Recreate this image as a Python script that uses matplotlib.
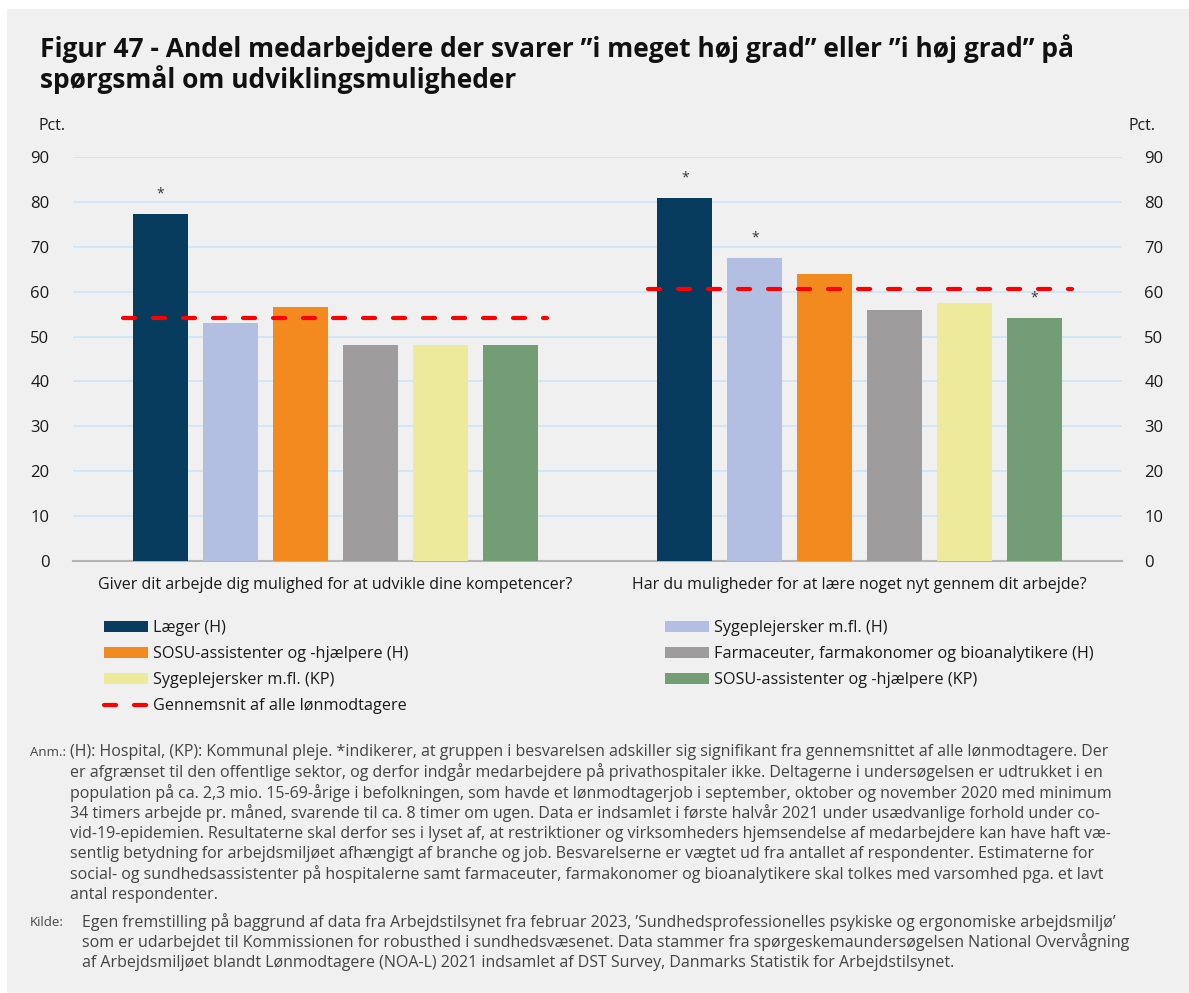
import matplotlib.pyplot as plt
from matplotlib.patches import Patch
from matplotlib.lines import Line2D
import numpy as np

plt.rcParams["font.family"] = ["Open Sans", "DejaVu Sans"]

# -------------------- data --------------------
questions = [
    "Giver dit arbejde dig mulighed for at udvikle dine kompetencer?",
    "Har du muligheder for at lære noget nyt gennem dit arbejde?",
]
groups = [
    "Læger (H)",
    "Sygeplejersker m.fl. (H)",
    "SOSU-assistenter og -hjælpere (H)",
    "Farmaceuter, farmakonomer og bioanalytikere (H)",
    "Sygeplejersker m.fl. (KP)",
    "SOSU-assistenter og -hjælpere (KP)",
]
colors = ["#073c5f", "#b2bfe2", "#f28a20", "#9e9c9c", "#eeea9c", "#739d74"]

# share per group, one list per question
values_q1 = [77.3, 53.1, 56.5, 48.1, 48.1, 48.1]
values_q2 = [81.0, 67.5, 63.9, 56.0, 57.5, 54.2]
# significant difference from the average (*)
signif_q1 = [True, False, False, False, False, False]
signif_q2 = [True, True, False, False, False, True]

average = [54.1, 60.6]
avg_label = "Gennemsnit af alle lønmodtagere"

yticks = list(range(0, 100, 10))

anm_lines = [
    "(H): Hospital, (KP): Kommunal pleje. *indikerer, at gruppen i besvarelsen adskiller sig signifikant fra gennemsnittet af alle lønmodtagere. Der",
    "er afgrænset til den offentlige sektor, og derfor indgår medarbejdere på privathospitaler ikke. Deltagerne i undersøgelsen er udtrukket i en",
    "population på ca. 2,3 mio. 15-69-årige i befolkningen, som havde et lønmodtagerjob i september, oktober og november 2020 med minimum",
    "34 timers arbejde pr. måned, svarende til ca. 8 timer om ugen. Data er indsamlet i første halvår 2021 under usædvanlige forhold under co-",
    "vid-19-epidemien. Resultaterne skal derfor ses i lyset af, at restriktioner og virksomheders hjemsendelse af medarbejdere kan have haft væ-",
    "sentlig betydning for arbejdsmiljøet afhængigt af branche og job. Besvarelserne er vægtet ud fra antallet af respondenter. Estimaterne for",
    "social- og sundhedsassistenter på hospitalerne samt farmaceuter, farmakonomer og bioanalytikere skal tolkes med varsomhed pga. et lavt",
    "antal respondenter.",
]
kilde_lines = [
    "Egen fremstilling på baggrund af data fra Arbejdstilsynet fra februar 2023, ’Sundhedsprofessionelles psykiske og ergonomiske arbejdsmiljø’",
    "som er udarbejdet til Kommissionen for robusthed i sundhedsvæsenet. Data stammer fra spørgeskemaundersøgelsen National Overvågning",
    "af Arbejdsmiljøet blandt Lønmodtagere (NOA-L) 2021 indsamlet af DST Survey, Danmarks Statistik for Arbejdstilsynet.",
]

# -------------------- figure --------------------
W, H = 1189, 993
bg = "#f0f0f0"
text_col = "#1a1a1a"
note_col = "#444444"

fig = plt.figure(figsize=(W / 100, H / 100), dpi=100, facecolor="white")
fig.patches.append(
    plt.Rectangle((7 / W, 0), 1, 1 - 9 / H, transform=fig.transFigure,
                  facecolor=bg, edgecolor="none", zorder=-10)
)

ax = fig.add_axes([73 / W, 1 - 560.7 / H, (1122 - 73) / W, (560.7 - 157.3) / H])
ax.set_facecolor(bg)

step = 0.1333
width = 0.105
offsets = (np.arange(len(groups)) - (len(groups) - 1) / 2) * step
x = np.arange(len(questions))

all_values = np.array([values_q1, values_q2])
all_signif = np.array([signif_q1, signif_q2])

for i, (name, col) in enumerate(zip(groups, colors)):
    vals = all_values[:, i]
    ax.bar(x + offsets[i], vals, width=width, color=col, zorder=3)
    for xi, v, s in zip(x + offsets[i], vals, all_signif[:, i]):
        if s:
            ax.annotate("*", (xi, v), xytext=(0, 9), textcoords="offset points",
                        ha="center", va="bottom", fontsize=10, color="#333333")

for xi, avg in zip(x, average):
    ax.plot([xi - 0.404, xi + 0.404], [avg, avg], color="#ff0000", lw=3,
            dashes=(2.9, 4.3), dash_capstyle="round", zorder=4)

ax.set_xlim(-0.5, 1.5)
ax.set_ylim(0, 90)
ax.set_yticks(yticks)
ax.grid(axis="y", color="#cde5f7", lw=1.2, zorder=0)
for side in ["top", "left", "right"]:
    ax.spines[side].set_visible(False)
ax.spines["bottom"].set_color("#b4b4b4")
ax.spines["bottom"].set_linewidth(1.5)
ax.set_xticks(x)
ax.set_xticklabels(questions, fontsize=11.5, color=text_col)
ax.tick_params(axis="x", length=0, pad=12)
ax.tick_params(axis="y", length=0, pad=17, labelsize=12, labelcolor=text_col)

ax2 = ax.twinx()
ax2.set_ylim(ax.get_ylim())
ax2.set_yticks(yticks)
ax2.tick_params(axis="y", length=0, pad=16, labelsize=12, labelcolor=text_col)
for side in ax2.spines:
    ax2.spines[side].set_visible(False)

fig.text(38 / W, 1 - 126 / H, "Pct.", fontsize=11.5, color=text_col, va="center")
fig.text(1156 / W, 1 - 126 / H, "Pct.", fontsize=11.5, color=text_col,
         va="center", ha="right")

# title
fig.text(40 / W, 1 - 49 / H,
         "Figur 47 - Andel medarbejdere der svarer ”i meget høj grad” eller ”i høj grad” på",
         fontsize=19, fontweight="bold", color="#111111", va="center")
fig.text(40 / W, 1 - 80 / H, "spørgsmål om udviklingsmuligheder",
         fontsize=19, fontweight="bold", color="#111111", va="center")

# legend, two columns
handles = [Patch(facecolor=c, label=g) for c, g in zip(colors, groups)]
avg_handle = Line2D([], [], color="#ff0000", lw=3, dashes=(2.9, 4.3),
                    dash_capstyle="round", label=avg_label)
col1 = [handles[0], handles[2], handles[4], avg_handle]
col2 = [handles[1], handles[3], handles[5]]
leg_kw = dict(frameon=False, fontsize=11.7, handlelength=2.7, handleheight=0.68,
              handletextpad=0.3, labelspacing=0.62, borderpad=0, borderaxespad=0,
              loc="upper left", labelcolor=text_col)
fig.legend(handles=col1, bbox_to_anchor=(104 / W, 1 - 620 / H), **leg_kw)
fig.legend(handles=col2, bbox_to_anchor=(665 / W, 1 - 620 / H), **leg_kw)

# notes
note_fs = 11.5
line_h = 20.4
fig.text(30 / W, 1 - 752 / H, "Anm.:", fontsize=9.5, color=note_col, va="center")
for k, line in enumerate(anm_lines):
    fig.text(70 / W, 1 - (752 + k * line_h) / H, line, fontsize=note_fs,
             color=note_col, va="center")
fig.text(30 / W, 1 - 922 / H, "Kilde:", fontsize=9.5, color=note_col, va="center")
for k, line in enumerate(kilde_lines):
    fig.text(82 / W, 1 - (922 + k * line_h) / H, line, fontsize=note_fs,
             color=note_col, va="center")

fig.savefig("out.png", dpi=100, facecolor=fig.get_facecolor())
